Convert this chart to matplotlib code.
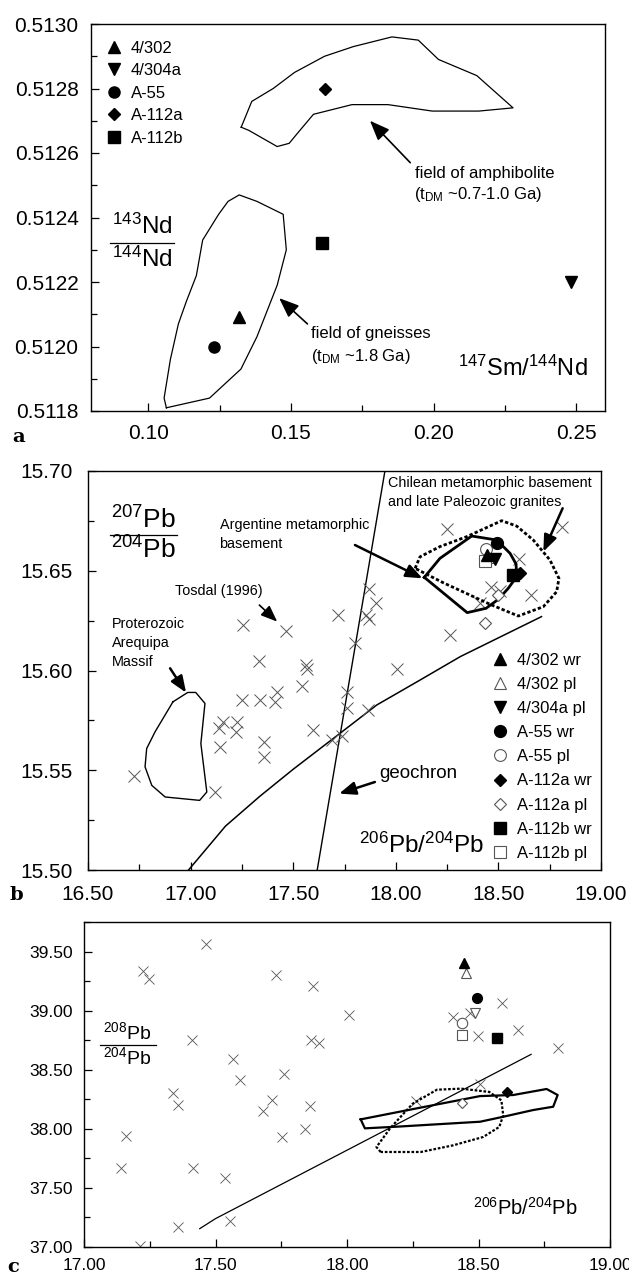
import matplotlib
matplotlib.use("Agg")
import matplotlib.pyplot as plt
from matplotlib import font_manager
from matplotlib.lines import Line2D
from matplotlib.ticker import MultipleLocator, FormatStrFormatter

names = {f.name for f in font_manager.fontManager.ttflist}
has_narrow = 'Liberation Sans Narrow' in names
narrow = 'Liberation Sans Narrow' if has_narrow else 'Liberation Sans'
plt.rcParams['font.family'] = ['Liberation Sans', 'DejaVu Sans']
plt.rcParams['mathtext.fontset'] = 'custom'
plt.rcParams['mathtext.rm'] = 'Liberation Sans'
plt.rcParams['mathtext.it'] = 'Liberation Sans'


def nsize(base):
    # the scanned labels are set in a condensed face
    return base / 0.82 if has_narrow else base


# ---------------- panel a : Sm-Nd ----------------
nd_samples = ['4/302', '4/304a', 'A-55', 'A-112a', 'A-112b']
nd_sm = [0.132, 0.248, 0.123, 0.162, 0.161]
nd_nd = [0.51209, 0.51220, 0.51200, 0.51280, 0.51232]

amph_x = [0.1326, 0.1363, 0.1438, 0.1513, 0.1618, 0.1719, 0.1854, 0.1946, 0.2017, 0.2151,
          0.2278, 0.2158, 0.1995, 0.1840, 0.1714, 0.1579, 0.1522, 0.1494, 0.1452, 0.1353, 0.1326]
amph_y = [0.51268, 0.51276, 0.51280, 0.51285, 0.51290, 0.51293, 0.51296, 0.51295, 0.51289, 0.51284,
          0.51274, 0.51273, 0.51273, 0.51275, 0.51275, 0.51272, 0.51266, 0.51263, 0.51262, 0.51267, 0.51268]
gneiss_x = [0.1064, 0.1215, 0.1325, 0.1381, 0.1452, 0.1484, 0.1473, 0.1381, 0.1319, 0.1280,
            0.1247, 0.1191, 0.1169, 0.1134, 0.1106, 0.1078, 0.1056, 0.1064]
gneiss_y = [0.51181, 0.51184, 0.51193, 0.51203, 0.51219, 0.51230, 0.51241, 0.51245, 0.51247, 0.51245,
            0.51241, 0.51233, 0.51222, 0.51214, 0.51207, 0.51196, 0.51184, 0.51181]

# ---------------- panels b, c : Pb ----------------
pb_samples = ['4/302 wr', '4/302 pl', '4/304a pl', 'A-55 wr', 'A-55 pl',
              'A-112a wr', 'A-112a pl', 'A-112b wr', 'A-112b pl']
pb_206 = [18.444, 18.452, 18.485, 18.494, 18.439, 18.607, 18.437, 18.571, 18.437]
pb_207 = [15.658, 15.657, 15.656, 15.664, 15.661, 15.6487, 15.624, 15.648, 15.655]
pb_208 = [39.405, 39.321, 38.977, 39.109, 38.898, 38.314, 38.216, 38.766, 38.794]
extra_pl_206 = [18.50]      # second A-112a pl point in b
extra_pl_207 = [15.638]

tosdal_b_206 = [16.725, 17.119, 17.140, 17.159, 17.143, 17.225, 17.221, 17.254, 17.249, 17.338,
                17.333, 17.358, 17.358, 17.411, 17.419, 17.465, 17.541, 17.562, 17.565, 17.595,
                17.688, 17.736, 17.720, 17.764, 17.761, 17.801, 17.853, 17.871, 17.869, 17.903,
                17.866, 18.008, 18.248, 18.263, 18.412, 18.465, 18.506, 18.600, 18.660, 18.808]
tosdal_b_207 = [15.547, 15.539, 15.571, 15.574, 15.5615, 15.574, 15.569, 15.623, 15.585, 15.585,
                15.605, 15.564, 15.5565, 15.584, 15.589, 15.620, 15.592, 15.603, 15.601, 15.570,
                15.565, 15.567, 15.628, 15.589, 15.581, 15.614, 15.628, 15.626, 15.641, 15.634,
                15.580, 15.601, 15.671, 15.618, 15.634, 15.642, 15.640, 15.656, 15.638, 15.672]

tosdal_c_206 = [17.465, 17.225, 17.249, 17.730, 17.869, 18.007, 17.410, 17.865, 17.895, 17.566,
                17.595, 17.759, 17.337, 17.358, 17.715, 17.682, 17.860, 17.159, 17.754, 17.842,
                17.141, 17.413, 17.537, 17.555, 17.357, 17.213, 18.403, 18.467, 18.497, 18.591,
                18.651, 18.801, 18.504, 18.262]
tosdal_c_208 = [39.567, 39.336, 39.268, 39.305, 39.212, 38.966, 38.755, 38.755, 38.726, 38.594,
                38.416, 38.467, 38.306, 38.205, 38.241, 38.151, 38.193, 37.937, 37.931, 37.999,
                37.671, 37.669, 37.581, 37.220, 37.169, 37.006, 38.946, 38.980, 38.786, 39.066,
                38.838, 38.682, 38.380, 38.235]

arequipa_x = [16.914, 16.986, 17.025, 17.070, 17.050, 17.079, 17.044, 16.876, 16.811, 16.778, 16.786, 16.827, 16.914]
arequipa_y = [15.5843, 15.5890, 15.5890, 15.5835, 15.5634, 15.5391, 15.5349, 15.5366, 15.5424, 15.5517, 15.5609, 15.5693, 15.5843]
argent_x = [18.139, 18.215, 18.370, 18.492, 18.557, 18.586, 18.589, 18.548, 18.500, 18.440, 18.348, 18.139]
argent_y = [15.6467, 15.6562, 15.6674, 15.6654, 15.6587, 15.6534, 15.6470, 15.6412, 15.6357, 15.6312, 15.6290, 15.6467]
chile_x = [18.094, 18.118, 18.215, 18.346, 18.516, 18.589, 18.670, 18.751, 18.795, 18.784,
           18.719, 18.597, 18.459, 18.231, 18.094]
chile_y = [15.6512, 15.6570, 15.6621, 15.6671, 15.6751, 15.6724, 15.6654, 15.6554, 15.6462, 15.6395,
           15.6320, 15.6273, 15.6332, 15.6440, 15.6512]
geochron_x = [16.99, 17.17, 17.338, 17.50, 17.728, 17.907, 18.118, 18.315, 18.71]
geochron_y = [15.500, 15.522, 15.537, 15.5505, 15.5685, 15.5827, 15.5952, 15.607, 15.627]
steep_x = [17.617, 17.947]
steep_y = [15.50, 15.70]

c_solid_x = [18.052, 18.265, 18.506, 18.632, 18.759, 18.801, 18.784, 18.708, 18.594, 18.506, 18.189, 18.068, 18.052]
c_solid_y = [38.080, 38.173, 38.277, 38.286, 38.337, 38.286, 38.187, 38.159, 38.102, 38.060, 38.018, 38.004, 38.080]
c_dot_x = [18.128, 18.112, 18.166, 18.250, 18.342, 18.434, 18.541, 18.587, 18.594, 18.579, 18.518, 18.403, 18.281, 18.128]
c_dot_y = [37.804, 37.846, 38.010, 38.213, 38.331, 38.340, 38.312, 38.241, 38.114, 38.016, 37.931, 37.860, 37.804, 37.804]
c_line_x = [17.44, 17.50, 18.70]
c_line_y = [37.155, 37.24, 38.63]

# marker styles
nd_marks = ['^', 'v', 'o', 'D', 's']
nd_ms = [8, 8, 8, 6, 8]
pb_marks = ['^', '^', 'v', 'o', 'o', 'D', 'D', 's', 's']
pb_fill = [True, False, True, True, False, True, False, True, False]
pb_ms = [8.5, 8.5, 8.5, 8.5, 8.5, 6.5, 6.5, 8.5, 8.5]

W, H = 629, 1274
fig = plt.figure(figsize=(W / 100, H / 100), dpi=100)


def box(l, r, t, b):
    return [l / W, 1 - b / H, (r - l) / W, (b - t) / H]


def style(ax, size, pad):
    ax.tick_params(which='both', direction='in', top=False, right=False,
                   labelsize=size, pad=pad, width=0.9)
    ax.tick_params(which='major', length=6)
    ax.tick_params(which='minor', length=4)
    for s in ax.spines.values():
        s.set_linewidth(1.0)


def arrow(ax, tail, tip, lw=1.2, ms=22):
    ax.annotate('', xy=tip, xytext=tail,
                arrowprops=dict(arrowstyle='-|>,head_length=0.55,head_width=0.22',
                                color='black', lw=lw, mutation_scale=ms, shrinkA=0, shrinkB=0))


def fraction(ax, x, y, top, bot, half, size, gap):
    ax.text(x, y + gap, top, transform=ax.transAxes, ha='center', va='center', fontsize=size)
    ax.text(x, y - gap, bot, transform=ax.transAxes, ha='center', va='center', fontsize=size)
    ax.add_line(Line2D([x - half, x + half], [y, y], transform=ax.transAxes, color='black', lw=0.9))


# ================= panel a =================
ax = fig.add_axes(box(91, 605, 24, 411))
ax.plot(amph_x, amph_y, color='black', lw=0.9)
ax.plot(gneiss_x, gneiss_y, color='black', lw=0.9)
for i, s in enumerate(nd_samples):
    ax.plot(nd_sm[i], nd_nd[i], linestyle='none', marker=nd_marks[i], ms=nd_ms[i],
            color='black', label=s)
ax.set_xlim(0.08, 0.26)
ax.set_ylim(0.5118, 0.5130)
ax.xaxis.set_major_locator(MultipleLocator(0.05))
ax.xaxis.set_minor_locator(MultipleLocator(0.025))
ax.yaxis.set_major_locator(MultipleLocator(0.0002))
ax.yaxis.set_minor_locator(MultipleLocator(0.0001))
ax.xaxis.set_major_formatter(FormatStrFormatter('%.2f'))
ax.yaxis.set_major_formatter(FormatStrFormatter('%.4f'))
style(ax, 15, 9)
ax.legend(loc='upper left', frameon=False, fontsize=12, handlelength=0.8,
          handletextpad=0.6, labelspacing=0.45, borderaxespad=0.6, borderpad=0.4)
arrow(ax, (0.1918, 0.51257), (0.1777, 0.51270))
arrow(ax, (0.1558, 0.51207), (0.1459, 0.51215))
fa = nsize(12)
ax.text(0.1935, 0.512537, 'field of amphibolite', fontsize=fa, family=narrow, va='center')
ax.text(0.1930, 0.51247, r'(t$_{\mathregular{DM}}$ ~0.7-1.0 Ga)', fontsize=fa, family=narrow, va='center')
ax.text(0.1570, 0.51204, 'field of gneisses', fontsize=fa, family=narrow, va='center')
ax.text(0.1570, 0.51197, r'(t$_{\mathregular{DM}}$ ~1.8 Ga)', fontsize=fa, family=narrow, va='center')
ax.text(0.967, 0.111, r'$^{147}$Sm/$^{144}$Nd', transform=ax.transAxes, ha='right', va='center', fontsize=17)
fraction(ax, 0.099, 0.434, r'$^{143}$Nd', r'$^{144}$Nd', 0.063, 17.5, 0.043)
fig.text(19 / W, 1 - 437 / H, 'a', family='DejaVu Serif', fontweight='bold', fontsize=14, ha='center', va='center')

# ================= panel b =================
ax = fig.add_axes(box(88, 601, 471, 870))
ax.plot(arequipa_x, arequipa_y, color='black', lw=1.0)
ax.plot(geochron_x, geochron_y, color='black', lw=1.1)
ax.plot(steep_x, steep_y, color='black', lw=1.0)
ax.plot(tosdal_b_206, tosdal_b_207, linestyle='none', marker='x', ms=8, mew=0.7, color='#555555')
ax.plot(chile_x, chile_y, color='black', lw=2.0, linestyle=(0, (1.2, 0.8)))
ax.plot(argent_x, argent_y, color='black', lw=2.0)
ax.plot(extra_pl_206, extra_pl_207, linestyle='none', marker='D', ms=6.5, mfc='white', mec='#555555', mew=0.8)
handles = []
for i, s in enumerate(pb_samples):
    if pb_fill[i]:
        h, = ax.plot(pb_206[i], pb_207[i], linestyle='none', marker=pb_marks[i], ms=pb_ms[i],
                     color='black', label=s, zorder=4)
    else:
        h, = ax.plot(pb_206[i], pb_207[i], linestyle='none', marker=pb_marks[i], ms=pb_ms[i],
                     mfc='white', mec='#555555', mew=0.8, label=s, zorder=3)
    handles.append(h)
ax.set_xlim(16.5, 19.0)
ax.set_ylim(15.50, 15.70)
ax.xaxis.set_major_locator(MultipleLocator(0.5))
ax.xaxis.set_minor_locator(MultipleLocator(0.25))
ax.yaxis.set_major_locator(MultipleLocator(0.05))
ax.yaxis.set_minor_locator(MultipleLocator(0.025))
ax.xaxis.set_major_formatter(FormatStrFormatter('%.2f'))
ax.yaxis.set_major_formatter(FormatStrFormatter('%.2f'))
style(ax, 15, 11)
ax.legend(handles=handles, loc='lower right', frameon=False, fontsize=12, handlelength=0.8,
          handletextpad=0.6, labelspacing=0.55, borderaxespad=0.15, borderpad=0.4)
arrow(ax, (17.335, 15.6328), (17.422, 15.6245), lw=1.2, ms=18)
arrow(ax, (16.90, 15.6011), (16.978, 15.5889), lw=1.8, ms=18)
arrow(ax, (17.801, 15.6629), (18.13, 15.6462), lw=1.8, ms=18)
arrow(ax, (18.813, 15.6813), (18.719, 15.6596), lw=1.8, ms=18)
arrow(ax, (17.898, 15.5441), (17.724, 15.5383), lw=1.8, ms=18)
fb = nsize(10.4)
ax.text(16.924, 15.640, 'Tosdal (1996)', fontsize=fb, family=narrow, va='center')
ax.text(16.617, 15.6232, 'Proterozoic', fontsize=fb, family=narrow, va='center')
ax.text(16.617, 15.6137, 'Arequipa', fontsize=fb, family=narrow, va='center')
ax.text(16.617, 15.6041, 'Massif', fontsize=fb, family=narrow, va='center')
ax.text(17.141, 15.6728, 'Argentine metamorphic', fontsize=fb, family=narrow, va='center')
ax.text(17.141, 15.6635, 'basement', fontsize=fb, family=narrow, va='center')
ax.text(17.963, 15.6938, 'Chilean metamorphic basement', fontsize=fb, family=narrow, va='center')
ax.text(17.963, 15.6846, 'and late Paleozoic granites', fontsize=fb, family=narrow, va='center')
ax.text(17.918, 15.5486, 'geochron', fontsize=13.5, va='center')
ax.text(0.772, 0.063, r'$^{206}$Pb/$^{204}$Pb', transform=ax.transAxes, ha='right', va='center', fontsize=17.5)
fraction(ax, 0.108, 0.840, r'$^{207}$Pb', r'$^{204}$Pb', 0.065, 19, 0.038)
fig.text(16 / W, 1 - 895 / H, 'b', family='DejaVu Serif', fontweight='bold', fontsize=14, ha='center', va='center')

# ================= panel c =================
ax = fig.add_axes(box(84, 610, 922, 1247))
ax.plot(c_line_x, c_line_y, color='black', lw=0.9)
ax.plot(tosdal_c_206, tosdal_c_208, linestyle='none', marker='x', ms=7, mew=0.6, color='#555555')
ax.plot(c_solid_x, c_solid_y, color='black', lw=1.6)
ax.plot(c_dot_x, c_dot_y, color='black', lw=1.6, linestyle=(0, (1.2, 0.8)))
for i, s in enumerate(pb_samples):
    if pb_fill[i] and pb_marks[i] != 'v':
        ax.plot(pb_206[i], pb_208[i], linestyle='none', marker=pb_marks[i], ms=pb_ms[i] - 1.5,
                color='black', zorder=4)
    else:
        ax.plot(pb_206[i], pb_208[i], linestyle='none', marker=pb_marks[i], ms=pb_ms[i] - 1,
                mfc='white', mec='#555555', mew=0.8, zorder=3)
ax.set_xlim(17.0, 19.0)
ax.set_ylim(37.0, 39.75)
ax.xaxis.set_major_locator(MultipleLocator(0.5))
ax.xaxis.set_minor_locator(MultipleLocator(0.25))
ax.yaxis.set_major_locator(MultipleLocator(0.5))
ax.yaxis.set_minor_locator(MultipleLocator(0.25))
ax.xaxis.set_major_formatter(FormatStrFormatter('%.2f'))
ax.yaxis.set_major_formatter(FormatStrFormatter('%.2f'))
style(ax, 12.5, 8)
ax.text(0.939, 0.12, r'$^{206}$Pb/$^{204}$Pb', transform=ax.transAxes, ha='right', va='center', fontsize=14.5)
fraction(ax, 0.083, 0.622, r'$^{208}$Pb', r'$^{204}$Pb', 0.053, 14, 0.038)
fig.text(13 / W, 1 - 1267 / H, 'c', family='DejaVu Serif', fontweight='bold', fontsize=14, ha='center', va='center')

fig.savefig('out.png', dpi=100)
